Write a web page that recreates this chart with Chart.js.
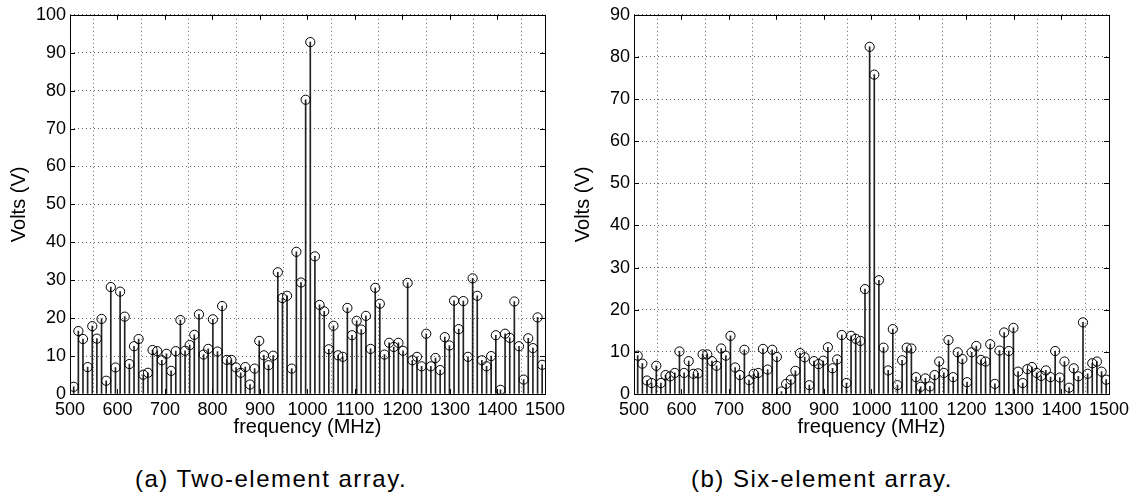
<!DOCTYPE html>
<html>
<head>
<meta charset="utf-8">
<script src="https://cdn.jsdelivr.net/npm/chart.js@4/dist/chart.umd.min.js"></script>
<style>
  body { margin: 0; background: #fff; width: 1141px; height: 500px; overflow: hidden; position: relative; }
  .panel { position: absolute; top: 0; width: 570px; height: 450px; }
  .caption { position: absolute; top: 465px; font-family: "Liberation Sans", Arial, sans-serif; font-size: 24px; letter-spacing: 1.5px; color: #000; text-align: center; width: 400px; }
</style>
</head>
<body>
<div class="panel" style="left:0"><canvas id="chartA" width="570" height="450"></canvas></div>
<div class="panel" style="left:564px"><canvas id="chartB" width="570" height="450"></canvas></div>
<div class="caption" style="left:71px">(a) Two-element array.</div>
<div class="caption" style="left:622px">(b) Six-element array.</div>
<script>
// FFT bin frequencies (MHz), shared by both panels
var freqs = [507.8, 517.6, 527.3, 537.1, 546.9, 556.6, 566.4, 576.2, 585.9, 595.7,
  605.5, 615.2, 625.0, 634.8, 644.5, 654.3, 664.1, 673.8, 683.6, 693.4,
  703.1, 712.9, 722.7, 732.4, 742.2, 752.0, 761.7, 771.5, 781.3, 791.0,
  800.8, 810.5, 820.3, 830.1, 839.8, 849.6, 859.4, 869.1, 878.9, 888.7,
  898.4, 908.2, 918.0, 927.7, 937.5, 947.3, 957.0, 966.8, 976.6, 986.3,
  996.1, 1005.9, 1015.6, 1025.4, 1035.2, 1044.9, 1054.7, 1064.5, 1074.2, 1084.0,
  1093.8, 1103.5, 1113.3, 1123.0, 1132.8, 1142.6, 1152.3, 1162.1, 1171.9, 1181.6,
  1191.4, 1201.2, 1210.9, 1220.7, 1230.5, 1240.2, 1250.0, 1259.8, 1269.5, 1279.3,
  1289.1, 1298.8, 1308.6, 1318.4, 1328.1, 1337.9, 1347.7, 1357.4, 1367.2, 1377.0,
  1386.7, 1396.5, 1406.3, 1416.0, 1425.8, 1435.5, 1445.3, 1455.1, 1464.8, 1474.6,
  1484.4, 1494.1]

// (a) two-element array, volts
var voltsTwo = [1.9, 16.6, 14.5, 7.1, 17.9, 14.6, 19.8, 3.5, 28.2, 7.0,
  27.0, 20.4, 7.9, 12.6, 14.5, 5.1, 5.6, 11.6, 11.3, 8.9,
  10.6, 6.1, 11.3, 19.5, 11.4, 12.9, 15.6, 21.0, 10.4, 11.9,
  19.7, 11.2, 23.2, 9.0, 9.0, 7.0, 5.6, 7.1, 2.5, 6.7,
  14.0, 10.2, 7.6, 10.1, 32.1, 25.3, 25.9, 6.7, 37.5, 29.4,
  77.6, 92.8, 36.3, 23.5, 21.8, 11.8, 18.0, 10.2, 9.8, 22.7,
  15.5, 19.3, 17.0, 20.6, 11.9, 28.0, 23.8, 10.4, 13.5, 12.4,
  13.5, 11.4, 29.3, 8.9, 9.8, 7.3, 15.9, 7.3, 9.5, 6.3,
  15.0, 12.8, 24.6, 17.1, 24.5, 9.8, 30.5, 25.9, 8.9, 7.3,
  10.0, 15.5, 1.1, 15.9, 14.8, 24.4, 12.6, 3.8, 14.7, 12.1,
  20.2, 7.7]

// (b) six-element array, volts
var voltsSix = [9.1, 7.2, 3.2, 2.6, 6.7, 2.6, 4.5, 4.2, 5.0, 10.1,
  5.0, 7.8, 4.8, 4.9, 9.4, 9.4, 7.8, 6.7, 10.8, 9.1,
  13.8, 6.3, 4.5, 10.5, 3.3, 4.8, 5.0, 10.7, 5.8, 10.5,
  8.8, 0.6, 2.4, 3.4, 5.5, 9.7, 8.7, 2.1, 7.8, 7.1,
  7.9, 11.1, 6.1, 8.2, 14.0, 2.6, 13.8, 13.1, 12.6, 24.9,
  82.4, 75.8, 27.0, 11.0, 5.6, 15.4, 2.1, 8.0, 11.0, 10.8,
  4.0, 1.7, 3.7, 1.8, 4.5, 7.7, 5.0, 12.8, 4.0, 9.9,
  8.3, 2.8, 9.9, 11.4, 8.1, 7.7, 11.8, 2.4, 10.3, 14.6,
  10.2, 15.7, 5.3, 2.6, 5.9, 6.4, 5.0, 4.3, 5.6, 4.0,
  10.2, 3.9, 7.7, 1.5, 6.1, 4.2, 17.0, 4.8, 7.3, 7.7,
  5.3, 3.4]

var FONT = '"Liberation Sans", Arial, sans-serif'

// matlab-ish box: frame plus inward tick marks on all four sides
const boxPlugin = {
  id: 'box',
  afterDatasetsDraw(chart) {
    const ctx = chart.ctx
    const a = chart.chartArea
    const x = chart.scales.x, y = chart.scales.y
    ctx.save()
    ctx.strokeStyle = '#000'
    ctx.lineWidth = 1
    ctx.strokeRect(Math.round(a.left) + 0.5, Math.round(a.top) + 0.5,
      Math.round(a.right) - Math.round(a.left), Math.round(a.bottom) - Math.round(a.top))
    ctx.beginPath()
    x.ticks.forEach(t => {
      const px = Math.round(x.getPixelForValue(t.value)) + 0.5
      ctx.moveTo(px, a.bottom); ctx.lineTo(px, a.bottom - 5)
      ctx.moveTo(px, a.top); ctx.lineTo(px, a.top + 5)
    })
    y.ticks.forEach(t => {
      const py = Math.round(y.getPixelForValue(t.value)) + 0.5
      ctx.moveTo(a.left, py); ctx.lineTo(a.left + 5, py)
      ctx.moveTo(a.right, py); ctx.lineTo(a.right - 5, py)
    })
    ctx.stroke()
    ctx.restore()
  }
}

function stemChart(id, values, yMax) {
  const pts = freqs.map((f, i) => ({x: f, y: values[i]}))
  return new Chart(document.getElementById(id), {
    type: 'bar',
    data: {
      datasets: [{
        type: 'line',
        data: pts,
        showLine: false,
        pointRadius: 4.6,
        pointBorderWidth: 1,
        pointBorderColor: '#000',
        pointBackgroundColor: 'rgba(0,0,0,0)',
        order: 0
      }, {
        type: 'bar',
        data: pts,
        backgroundColor: '#222',
        barThickness: 1,
        grouped: false,
        order: 1
      }]
    },
    options: {
      responsive: false,
      animation: false,
      devicePixelRatio: 1,
      layout: {padding: {top: 14, right: 20, left: 0, bottom: 0}},
      plugins: {legend: {display: false}, tooltip: {enabled: false}},
      scales: {
        x: {
          type: 'linear', min: 500, max: 1500, offset: false,
          ticks: {stepSize: 100, padding: 5, color: '#000', font: {family: FONT, size: 18}, maxRotation: 0,
            autoSkip: false, callback: v => String(v)},
          grid: {color: '#666', lineWidth: 1, drawTicks: false},
          border: {display: false, dash: [1, 3]},
          title: {display: true, text: 'frequency (MHz)', color: '#000', font: {family: FONT, size: 20}, padding: {top: 2, bottom: 11}},
          afterFit: s => { s.height = 56 }
        },
        y: {
          min: 0, max: yMax,
          ticks: {stepSize: 10, padding: 4, color: '#000', font: {family: FONT, size: 18}, callback: v => String(v)},
          grid: {color: '#666', lineWidth: 1, drawTicks: false},
          border: {display: false, dash: [1, 3]},
          title: {display: true, text: 'Volts (V)', color: '#000', font: {family: FONT, size: 20}, padding: 7},
          afterFit: s => { s.width = 70 }
        }
      }
    },
    plugins: [boxPlugin]
  })
}

stemChart('chartA', voltsTwo, 100)
stemChart('chartB', voltsSix, 90)
</script>
</body>
</html>
